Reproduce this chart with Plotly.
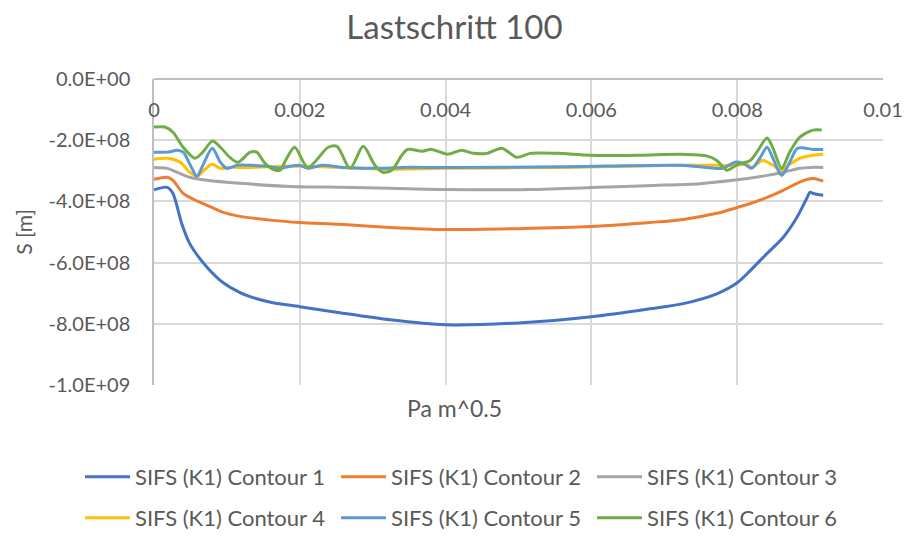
import plotly.graph_objects as go

FONT = "Lato"
GREY_TXT = "#595959"
W, H = 909, 539

# x in units of 1e-3, y in units of 1e8
c1_x = [0.0, 0.18, 0.26, 0.38, 0.49, 0.73, 0.95, 1.18, 1.41, 1.63, 2.0, 2.55, 3.24, 4.0, 5.0, 6.0, 6.8, 7.26, 7.72, 8.0, 8.18, 8.41, 8.63, 8.82, 8.96, 9.0, 9.04, 9.18]
c1_y = [-3.62, -3.54, -3.74, -4.72, -5.38, -6.16, -6.66, -6.98, -7.18, -7.31, -7.44, -7.64, -7.87, -8.03, -7.97, -7.77, -7.51, -7.34, -7.02, -6.66, -6.26, -5.70, -5.18, -4.52, -3.87, -3.70, -3.74, -3.80]

c2_x = [0.0, 0.18, 0.26, 0.40, 0.54, 0.73, 0.95, 1.18, 1.63, 2.0, 2.55, 3.24, 4.0, 5.0, 6.0, 6.8, 7.26, 7.72, 8.0, 8.18, 8.41, 8.63, 8.82, 8.96, 9.05, 9.18]
c2_y = [-3.28, -3.21, -3.31, -3.74, -3.93, -4.13, -4.36, -4.49, -4.62, -4.69, -4.75, -4.85, -4.92, -4.89, -4.82, -4.69, -4.59, -4.39, -4.20, -4.07, -3.87, -3.64, -3.41, -3.28, -3.25, -3.34]

c3_x = [0.0, 0.18, 0.32, 0.49, 0.73, 1.18, 1.87, 2.55, 3.24, 4.0, 5.16, 6.1, 6.85, 7.49, 7.94, 8.41, 8.63, 8.86, 9.0, 9.18]
c3_y = [-2.89, -2.92, -3.05, -3.21, -3.31, -3.41, -3.51, -3.54, -3.57, -3.61, -3.61, -3.54, -3.48, -3.42, -3.31, -3.15, -3.05, -2.92, -2.89, -2.89]

c4_x = [0.0, 0.19, 0.36, 0.49, 0.59, 0.70, 0.80, 0.91, 1.04, 1.32, 1.77, 2.0, 2.55, 3.24, 3.99, 5.57, 7.22, 7.59, 7.97, 8.13, 8.20, 8.35, 8.49, 8.61, 8.72, 8.86, 9.04, 9.18]
c4_y = [-2.62, -2.59, -2.72, -3.05, -3.18, -2.95, -2.79, -2.92, -2.89, -2.89, -2.85, -2.85, -2.89, -2.95, -2.92, -2.89, -2.82, -2.82, -2.82, -2.79, -2.89, -2.66, -2.82, -2.98, -2.79, -2.59, -2.49, -2.46]

c5_x = [0.0, 0.19, 0.32, 0.40, 0.52, 0.59, 0.67, 0.80, 0.91, 1.00, 1.14, 1.32, 1.55, 1.73, 1.87, 2.0, 2.11, 2.30, 2.62, 3.07, 3.40, 3.99, 5.57, 7.22, 7.59, 7.80, 7.97, 8.08, 8.20, 8.31, 8.41, 8.49, 8.61, 8.72, 8.83, 9.04, 9.18]
c5_y = [-2.39, -2.39, -2.33, -2.39, -2.92, -3.18, -2.82, -2.26, -2.72, -2.92, -2.82, -2.82, -2.85, -2.92, -2.85, -2.82, -2.92, -2.82, -2.89, -2.92, -2.89, -2.89, -2.87, -2.82, -2.89, -2.92, -2.72, -2.75, -2.92, -2.59, -2.23, -2.59, -3.15, -2.72, -2.26, -2.30, -2.30]

c6_x = [0.0, 0.15, 0.26, 0.40, 0.56, 0.67, 0.80, 0.91, 1.04, 1.15, 1.32, 1.41, 1.52, 1.66, 1.73, 1.82, 1.93, 2.11, 2.39, 2.51, 2.69, 2.87, 3.03, 3.14, 3.26, 3.40, 3.48, 3.68, 3.81, 4.03, 4.22, 4.38, 4.57, 4.77, 4.98, 5.16, 5.53, 5.98, 6.67, 7.22, 7.59, 7.72, 7.86, 8.01, 8.18, 8.27, 8.41, 8.49, 8.61, 8.72, 8.86, 9.04, 9.16]
c6_y = [-1.57, -1.57, -1.74, -2.23, -2.59, -2.39, -2.03, -2.23, -2.56, -2.72, -2.39, -2.39, -2.75, -2.98, -2.98, -2.59, -2.23, -2.89, -2.23, -2.20, -2.92, -2.20, -2.82, -3.05, -2.98, -2.49, -2.30, -2.36, -2.30, -2.46, -2.33, -2.43, -2.43, -2.26, -2.56, -2.43, -2.43, -2.49, -2.49, -2.46, -2.52, -2.66, -2.98, -2.79, -2.66, -2.39, -1.93, -2.26, -2.92, -2.39, -1.90, -1.67, -1.67]

names = [f"SIFS (K1) Contour {i}" for i in range(1, 7)]
colors = ["#4472C4", "#ED7D31", "#A5A5A5", "#FFC000", "#5B9BD5", "#70AD47"]
xs = [c1_x, c2_x, c3_x, c4_x, c5_x, c6_x]
ys = [c1_y, c2_y, c3_y, c4_y, c5_y, c6_y]

y_ticks = [0, -2e8, -4e8, -6e8, -8e8, -1e9]
y_labels = ["0.0E+00", "-2.0E+08", "-4.0E+08", "-6.0E+08", "-8.0E+08", "-1.0E+09"]
x_ticks = [0, 0.002, 0.004, 0.006, 0.008, 0.01]
x_labels = ["0", "0.002", "0.004", "0.006", "0.008", "0.01"]

fig = go.Figure()
for i in range(6):
    fig.add_trace(go.Scatter(
        x=[v * 1e-3 for v in xs[i]], y=[v * 1e8 for v in ys[i]],
        mode="lines", name=names[i],
        line=dict(color=colors[i], width=3, shape="spline", smoothing=0.8),
        legend="legend" if i < 3 else "legend2",
        hoverinfo="skip",
    ))

# plot area in pixels: x 154..883, y 79..385 ; paper = full figure (zero margins)
leg_common = dict(orientation="h", x=80 / W, xanchor="left",
                  entrywidth=196, entrywidthmode="pixels", itemwidth=45,
                  font=dict(size=22, color=GREY_TXT, family=FONT), bgcolor="rgba(0,0,0,0)")

fig.update_layout(
    width=W, height=H,
    margin=dict(l=0, r=0, t=0, b=0),
    paper_bgcolor="white", plot_bgcolor="white",
    font=dict(family=FONT, color=GREY_TXT, size=20),
    title=dict(text="Lastschritt 100", x=0.5, xanchor="center", y=1 - 27 / H, yanchor="middle",
               font=dict(size=33, color=GREY_TXT, family=FONT)),
    showlegend=True,
    legend=dict(y=1 - 477 / H, yanchor="middle", **leg_common),
    legend2=dict(y=0, yanchor="bottom", **leg_common),
    annotations=[dict(text="Pa m^0.5", xref="paper", yref="paper", x=454 / W, y=1 - 408 / H,
                      xanchor="center", yanchor="middle", showarrow=False,
                      font=dict(size=23, color=GREY_TXT, family=FONT))],
)

fig.update_xaxes(
    domain=[154 / W, 883 / W],
    range=[0, 0.01], side="bottom", anchor="free", position=1 - 79 / H, automargin=False,
    tickvals=x_ticks, ticktext=x_labels, ticks="", ticklabelstandoff=13,
    showgrid=True, gridcolor="#D9D9D9", gridwidth=1.5,
    showline=True, linecolor="#BFBFBF", linewidth=1.5, zeroline=False,
    tickfont=dict(size=20, color=GREY_TXT, family=FONT),
)
fig.update_yaxes(
    domain=[1 - 385 / H, 1 - 79 / H],
    range=[-1e9, 0], tickvals=y_ticks, ticktext=y_labels, ticks="", automargin=False,
    ticklabelstandoff=18,
    showgrid=True, gridcolor="#D9D9D9", gridwidth=1.5,
    showline=True, linecolor="#BFBFBF", linewidth=1.5, zeroline=False,
    title=dict(text="S [m]", font=dict(size=21, color=GREY_TXT, family=FONT), standoff=10),
    tickfont=dict(size=20, color=GREY_TXT, family=FONT),
)

fig.write_html("out.html")
